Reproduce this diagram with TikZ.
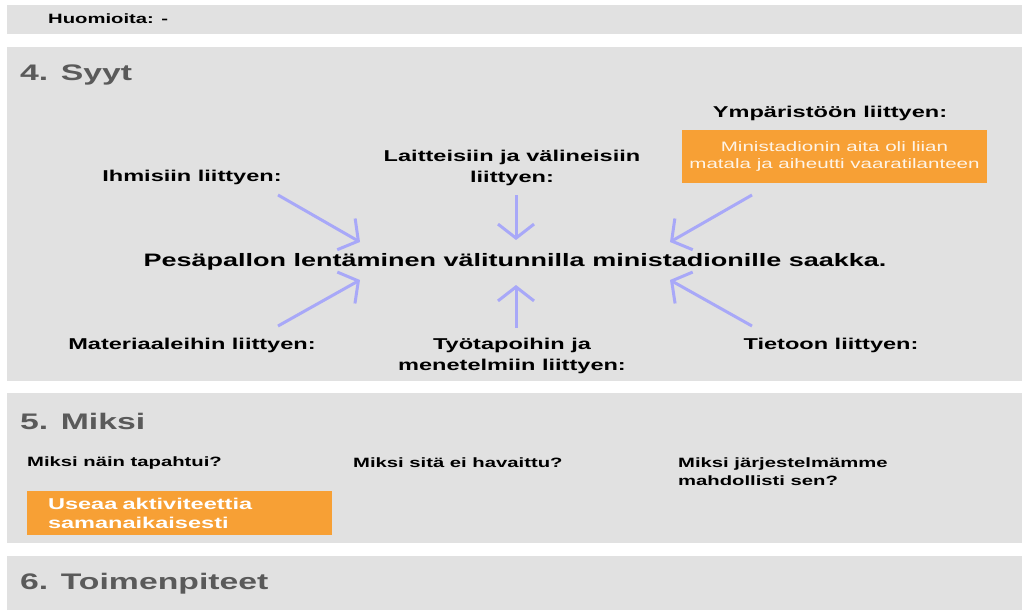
\documentclass[tikz,border=0pt]{standalone}
\usepackage{fontspec}
\setmainfont{Liberation Sans}[FakeStretch=1.5]
\usetikzlibrary{arrows.meta}

\definecolor{panelgray}{HTML}{E1E1E1}
\definecolor{boxorange}{HTML}{F7A035}
\definecolor{headgray}{HTML}{5A5A5A}
\definecolor{arrowblue}{HTML}{A8A8F8}

\begin{document}
\begin{tikzpicture}[x=1pt,y=-1pt,
  head/.style={anchor=west,inner sep=0,text=headgray,font=\fontsize{22.5}{27}\selectfont\bfseries},
  cat/.style={inner sep=0,align=center,font=\fontsize{15.7}{21}\selectfont\bfseries},
  ask/.style={anchor=west,inner sep=0,align=left,font=\fontsize{13.5}{18}\selectfont\bfseries},
  orangebox/.style={fill=boxorange,inner ysep=0,text=white},
  cause/.style={-{Straight Barb[length=14pt,width=36pt]},line width=3pt,draw=arrowblue}]
  \useasboundingbox (0,0) rectangle (1022,610);

  % panels
  \fill[panelgray] (7,5) rectangle (1022,34);
  \fill[panelgray] (7,47) rectangle (1022,381);
  \fill[panelgray] (7,393) rectangle (1022,543);
  \fill[panelgray] (7,556) rectangle (1022,610);

  \node[ask] (huom) at (48,19) {Huomioita: -};

  % 4. Syyt
  \node[head] (syyt) at (20,75) {4. Syyt};
  \node[cat] (ihm) at (192,177) {Ihmisiin liittyen:};
  \node[cat] (lait) at (512,167.5) {Laitteisiin ja välineisiin\\liittyen:};
  \node[cat] (ymp) at (830,113) {Ympäristöön liittyen:};
  \node[orangebox,minimum width=305pt,minimum height=53pt,align=center,
        text=white!88!boxorange,font=\fontsize{13.7}{17}\selectfont] (ympbox) at (834.5,156.5)
        {Ministadionin aita oli liian\\matala ja aiheutti vaaratilanteen};
  \node[cat,font=\fontsize{18}{22}\selectfont\bfseries] (event) at (515,262)
        {Pesäpallon lentäminen välitunnilla ministadionille saakka.};
  \node[cat] (mat) at (192,345) {Materiaaleihin liittyen:};
  \node[cat] (tyo) at (512,355.5) {Työtapoihin ja\\menetelmiin liittyen:};
  \node[cat] (tie) at (831,345) {Tietoon liittyen:};

  \coordinate (p1) at (278,195);  \coordinate (q1) at (360,242);
  \coordinate (p2) at (516,195);  \coordinate (q2) at (516,240);
  \coordinate (p3) at (752,195);  \coordinate (q3) at (670,242);
  \coordinate (p4) at (278,326);  \coordinate (q4) at (360,280);
  \coordinate (p5) at (516,328);  \coordinate (q5) at (516,285);
  \coordinate (p6) at (752,326);  \coordinate (q6) at (670,280);
  \foreach \i in {1,...,6}
    \draw[cause] (p\i) -- (q\i);

  % 5. Miksi
  \node[head] (miksi) at (20,421) {5. Miksi};
  \node[ask] (q1txt) at (27,463) {Miksi näin tapahtui?};
  \node[ask] (q2txt) at (353,463) {Miksi sitä ei havaittu?};
  \node[ask,anchor=north west] (q3txt) at (678,458) {Miksi järjestelmämme\\mahdollisti sen?};
  \node[orangebox,minimum height=44pt,inner xsep=21pt,text width=263pt,align=left,
        font=\fontsize{15.7}{19}\selectfont\bfseries] (syybox) at (179.5,513)
        {Useaa aktiviteettia\\samanaikaisesti};

  % 6. Toimenpiteet
  \node[head] (toim) at (20,584) {6. Toimenpiteet};
\end{tikzpicture}
\end{document}
